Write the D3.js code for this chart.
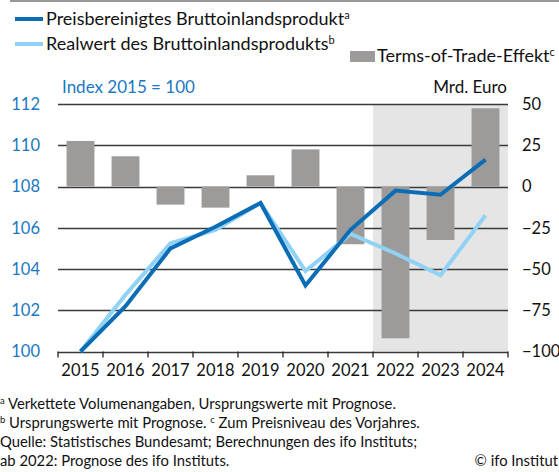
<!DOCTYPE html>
<html>
<head>
<meta charset="utf-8">
<script src="https://cdn.jsdelivr.net/npm/d3@7"></script>
<style>
  body { margin: 0; background: #fff; }
  svg { display: block; font-family: Lato, "Open Sans", sans-serif; }
</style>
</head>
<body>
<svg id="chart"></svg>
<script>
// data
var years = ["2015", "2016", "2017", "2018", "2019", "2020", "2021", "2022", "2023", "2024"];
var bipReal = [100, 102.2, 105.0, 106.05, 107.2, 103.2, 105.9, 107.8, 107.6, 109.3];
var realwert = [100, 102.75, 105.25, 105.9, 107.2, 103.9, 105.7, 104.75, 103.7, 106.6];
var totEffekt = [27.6, 18.3, -11, -12.8, 6.8, 22.5, -35, -92, -32.4, 47.4];
var leftTicks = [100, 102, 104, 106, 108, 110, 112];
var rightTicks = [-100, -75, -50, -25, 0, 25, 50];
var forecastYears = ["2022", "2023", "2024"];

var W = 559, H = 472;
var m = { left: 58, right: 51, top: 104, bottom: 120.5 };
var blueDark = "#0b6db5", blueLight = "#8fd2f5", barGray = "#9d9b99";

var svg = d3.select("#chart").attr("width", W).attr("height", H);

var x = d3.scaleBand().domain(years).range([m.left, W - m.right]).paddingInner(0.38).paddingOuter(0.19);
var yL = d3.scaleLinear().domain([100, 112]).range([H - m.bottom, m.top]);
var yR = d3.scaleLinear().domain([-100, 50]).range([H - m.bottom, m.top]);
var step = x.step();

// top rule
svg.append("line").attr("x1", 10).attr("x2", W).attr("y1", 1).attr("y2", 1)
  .attr("stroke", "#999").attr("stroke-width", 2);

// forecast shading
svg.append("rect")
  .attr("x", x(forecastYears[0]) - (step - x.bandwidth()) / 2)
  .attr("y", m.top)
  .attr("width", step * forecastYears.length)
  .attr("height", yL(100) - m.top)
  .attr("fill", "#e5e5e5");

// gridlines
svg.append("g").selectAll("line").data(leftTicks).join("line")
  .attr("x1", m.left).attr("x2", W - m.right)
  .attr("y1", d => Math.round(yL(d)) + 0.5).attr("y2", d => Math.round(yL(d)) + 0.5)
  .attr("stroke", "#3a3a3a").attr("stroke-width", 1.3);

// bars
svg.append("g").selectAll("rect").data(totEffekt).join("rect")
  .attr("x", (d, i) => x(years[i]))
  .attr("width", x.bandwidth())
  .attr("y", d => yR(Math.max(0, d)))
  .attr("height", d => Math.abs(yR(d) - yR(0)))
  .attr("fill", barGray);

// lines
var line = function(vals) {
  return d3.line().x((d, i) => x(years[i]) + x.bandwidth() / 2).y(d => yL(d))(vals);
};
svg.append("path").attr("d", line(realwert)).attr("fill", "none")
  .attr("stroke", blueLight).attr("stroke-width", 4);
svg.append("path").attr("d", line(bipReal)).attr("fill", "none")
  .attr("stroke", blueDark).attr("stroke-width", 4);

// x axis
var gx = svg.append("g").attr("transform", "translate(0," + yL(100) + ")")
  .call(d3.axisBottom(x).tickSize(0).tickPadding(13));
gx.select(".domain").remove();
gx.selectAll("text").attr("font-size", 16.5).attr("fill", "#111").attr("font-family", "Lato");
svg.append("g").selectAll("line").data(d3.range(years.length + 1)).join("line")
  .attr("x1", i => m.left + i * step).attr("x2", i => m.left + i * step)
  .attr("y1", yL(100)).attr("y2", yL(100) + 6)
  .attr("stroke", "#222").attr("stroke-width", 1.3);

// left axis labels
var gl = svg.append("g").attr("transform", "translate(" + m.left + ",0)")
  .call(d3.axisLeft(yL).tickValues(leftTicks).tickSize(0).tickPadding(18));
gl.select(".domain").remove();
gl.selectAll("text").attr("font-size", 16.5).attr("fill", "#1a78c2").attr("font-family", "Lato");

// right axis labels
var gr = svg.append("g").attr("transform", "translate(" + (W - m.right) + ",0)")
  .call(d3.axisRight(yR).tickValues(rightTicks).tickSize(0).tickPadding(14));
gr.select(".domain").remove();
gr.selectAll("text").attr("font-size", 16.5).attr("fill", "#111").attr("font-family", "Lato");

// unit labels
svg.append("text").attr("x", 62).attr("y", 93).attr("font-size", 17)
  .attr("fill", "#1a78c2").text("Index 2015 = 100");
svg.append("text").attr("x", 507).attr("y", 93).attr("font-size", 17)
  .attr("text-anchor", "end").attr("fill", "#111").text("Mrd. Euro");

// legend
function legendText(xp, yp, label, sup) {
  var t = svg.append("text").attr("x", xp).attr("y", yp).attr("font-size", 18).attr("fill", "#111");
  t.append("tspan").text(label);
  t.append("tspan").attr("font-size", 11).attr("dy", -6).text(sup);
}
svg.append("line").attr("x1", 15).attr("x2", 43).attr("y1", 19).attr("y2", 19)
  .attr("stroke", blueDark).attr("stroke-width", 4);
legendText(46, 25, "Preisbereinigtes Bruttoinlandsprodukt", "a");
svg.append("line").attr("x1", 15).attr("x2", 43).attr("y1", 44).attr("y2", 44)
  .attr("stroke", blueLight).attr("stroke-width", 4);
legendText(46, 50, "Realwert des Bruttoinlandsprodukts", "b");
svg.append("rect").attr("x", 350).attr("y", 51).attr("width", 25).attr("height", 11).attr("fill", barGray);
legendText(377, 62, "Terms-of-Trade-Effekt", "c");

// footnotes
var notes = [
  [["a", true], [" Verkettete Volumenangaben, Ursprungswerte mit Prognose.", false]],
  [["b", true], [" Ursprungswerte mit Prognose. ", false], ["c", true], [" Zum Preisniveau des Vorjahres.", false]],
  [["Quelle: Statistisches Bundesamt; Berechnungen des ifo Instituts;", false]],
  [["ab 2022: Prognose des ifo Instituts.", false]]
];
var noteY = [409, 428, 447, 466];
notes.forEach(function(parts, i) {
  var t = svg.append("text").attr("x", 0).attr("y", noteY[i]).attr("font-size", 14.8).attr("fill", "#111");
  var prevSup = false;
  parts.forEach(function(p) {
    var s = t.append("tspan").text(p[0]);
    if (p[1]) s.attr("font-size", 9.5).attr("dy", -5);
    else if (prevSup) s.attr("dy", 5);
    prevSup = p[1];
  });
});
svg.append("text").attr("x", 558).attr("y", 466).attr("font-size", 14.8).attr("fill", "#111")
  .attr("text-anchor", "end").text("© ifo Institut");
</script>
</body>
</html>
